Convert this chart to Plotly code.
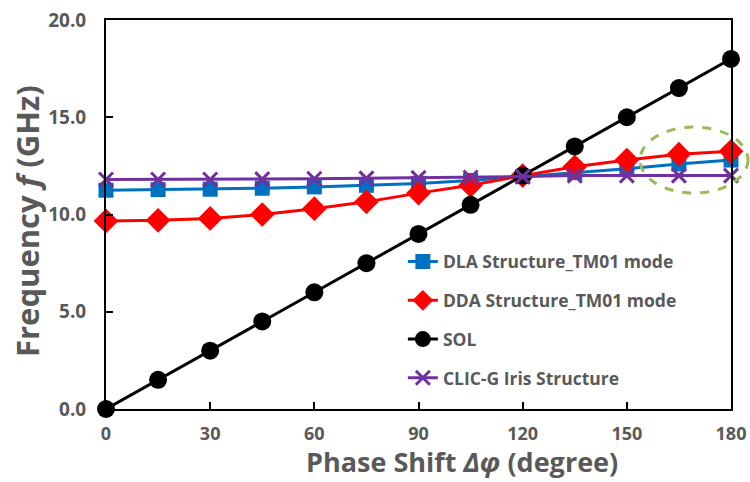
import plotly.graph_objects as go

phase = [0, 15, 30, 45, 60, 75, 90, 105, 120, 135, 150, 165, 180]
dla = [11.25, 11.28, 11.3, 11.35, 11.42, 11.5, 11.6, 11.75, 11.95, 12.15, 12.35, 12.6, 12.8]
dda = [9.67, 9.7, 9.8, 10.0, 10.3, 10.65, 11.1, 11.5, 12.0, 12.45, 12.8, 13.1, 13.25]
sol = [0, 1.5, 3, 4.5, 6, 7.5, 9, 10.5, 12, 13.5, 15, 16.5, 18]
clic = [11.8, 11.8, 11.8, 11.82, 11.84, 11.86, 11.88, 11.9, 11.95, 12.0, 12.0, 12.0, 12.0]

xticks = [0, 30, 60, 90, 120, 150, 180]
yticks = [0, 5, 10, 15, 20]
ytick_labels = ["0.0", "5.0", "10.0", "15.0", "20.0"]

grey = "#595959"
font_family = "Open Sans"

fig = go.Figure()
fig.add_trace(go.Scatter(x=phase, y=dla, mode="lines+markers", name="DLA Structure_TM01 mode",
                         line=dict(color="#0070C0", width=3),
                         marker=dict(symbol="square", size=15, color="#0070C0"),
                         legendgroup="a", cliponaxis=False))
fig.add_trace(go.Scatter(x=phase, y=dda, mode="lines+markers", name="DDA Structure_TM01 mode",
                         line=dict(color="#FF0000", width=3),
                         marker=dict(symbol="diamond", size=19, color="#FF0000"),
                         legendgroup="b", cliponaxis=False))
fig.add_trace(go.Scatter(x=phase, y=sol, mode="lines+markers", name="SOL",
                         line=dict(color="#000000", width=3),
                         marker=dict(symbol="circle", size=18, color="#000000"),
                         legendgroup="c", cliponaxis=False))
fig.add_trace(go.Scatter(x=phase, y=clic, mode="lines+markers", name="CLIC-G Iris Structure",
                         line=dict(color="#7030A0", width=3),
                         marker=dict(symbol="x-thin", size=14, color="#7030A0",
                                     line=dict(color="#7030A0", width=3)),
                         legendgroup="d", cliponaxis=False))

# dashed ellipse highlight
fig.add_shape(type="circle", xref="paper", yref="paper",
              x0=(640 - 106) / 625, x1=(748 - 106) / 625,
              y0=(409 - 193) / 389, y1=(409 - 127) / 389,
              line=dict(color="#9BBB59", width=3, dash="dash"))

# axis titles as annotations
fig.add_annotation(text="Phase Shift <i>Δφ</i> (degree)", xref="paper", yref="paper",
                   x=(462 - 106) / 625, y=(409 - 482) / 389, xanchor="center", yanchor="bottom",
                   showarrow=False,
                   font=dict(size=27, color=grey, family=font_family, weight="bold"))
fig.add_annotation(text="Frequency <i>f</i> (GHz)", xref="paper", yref="paper",
                   x=(27 - 106) / 625, y=(409 - 221) / 389, xanchor="center", yanchor="middle",
                   showarrow=False, textangle=-90,
                   font=dict(size=31, color=grey, family=font_family, weight="bold"))

fig.update_layout(
    width=750, height=482,
    margin=dict(l=106, r=19, t=20, b=73),
    paper_bgcolor="white", plot_bgcolor="white",
    font=dict(family=font_family, color=grey, size=17),
    showlegend=True,
    legend=dict(x=0.475, y=0.425, xanchor="left", yanchor="top",
                font=dict(size=17.5, color=grey, family=font_family, weight="bold"),
                tracegroupgap=13, traceorder="grouped",
                bgcolor="rgba(0,0,0,0)"),
    xaxis=dict(range=[0, 180], tickvals=xticks, ticks="inside", ticklen=7, tickwidth=2,
               tickcolor="black", showline=True, linecolor="black", linewidth=2,
               mirror=True, showgrid=False, zeroline=False, automargin=False,
               ticklabelstandoff=7,
               tickfont=dict(size=18, color=grey, family=font_family, weight="bold")),
    yaxis=dict(range=[0, 20], tickvals=yticks, ticktext=ytick_labels, ticks="inside",
               ticklen=7, tickwidth=2, tickcolor="black", showline=True, linecolor="black",
               linewidth=2, mirror=True, showgrid=False, zeroline=False, automargin=False,
               ticklabelstandoff=14,
               tickfont=dict(size=19, color=grey, family=font_family, weight="bold")),
)

fig.write_html("out.html")
